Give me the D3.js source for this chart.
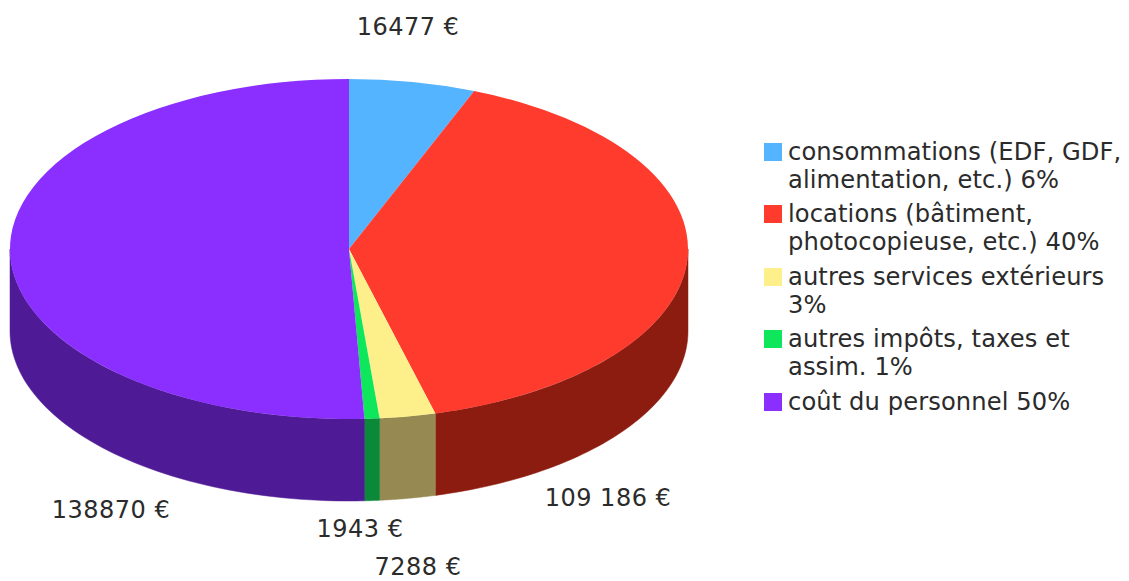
<!DOCTYPE html>
<html>
<head>
<meta charset="utf-8">
<script src="https://cdn.jsdelivr.net/npm/d3@7"></script>
<style>
  html, body { margin: 0; padding: 0; background: #fff; }
  text { font-family: "DejaVu Sans", Verdana, sans-serif; fill: #2b2b2b; }
</style>
</head>
<body>
<div id="chart"></div>
<script>
// chart data
var amounts = [16477, 109186, 7288, 1943, 138870];
var amountLabels = ["16477 €", "109 186 €", "7288 €", "1943 €", "138870 €"];
var legendLines = [
  ["consommations (EDF, GDF,", "alimentation, etc.) 6%"],
  ["locations (bâtiment,", "photocopieuse, etc.) 40%"],
  ["autres services extérieurs", "3%"],
  ["autres impôts, taxes et", "assim. 1%"],
  ["coût du personnel 50%"]
];
var topColors = ["#55b4ff", "#ff3b2e", "#fdf08a", "#0ee65c", "#8a2fff"];
var wallColors = ["#2f6a99", "#8c1c10", "#968a52", "#0a8a38", "#4e1a96"];

// layout
var width = 1129, height = 581;
var cx = 349, cy = 249, rx = 339, ry = 170, depth = 82;
// where each amount label sits, same order as amounts
var labelPos = [[408, 27], [608, 498], [418, 567], [360, 529], [111, 510]];

var svg = d3.select("#chart").append("svg")
  .attr("width", width)
  .attr("height", height);

var slices = d3.pie().sort(null).value(function (d) { return d; })(amounts);

// x and y of a point on the rim, unit circle to the squashed ellipse
var x = d3.scaleLinear().domain([-1, 1]).range([cx - rx, cx + rx]);
var y = d3.scaleLinear().domain([-1, 1]).range([cy - ry, cy + ry]);

var rim = d3.line()
  .x(function (d) { return x(Math.sin(d.a)); })
  .y(function (d) { return y(-Math.cos(d.a)) + d.drop; });

// side walls, only the front half of the disc shows
function wallPath(d) {
  var a0 = Math.max(d.startAngle, Math.PI / 2);
  var a1 = Math.min(d.endAngle, 3 * Math.PI / 2);
  if (a1 <= a0) return null;
  var steps = d3.range(0, 61).map(function (i) { return a0 + (a1 - a0) * i / 60; });
  var top = steps.map(function (a) { return { a: a, drop: 0 }; });
  var bottom = steps.slice().reverse().map(function (a) { return { a: a, drop: depth }; });
  return rim(top.concat(bottom)) + "Z";
}

svg.append("g").selectAll("path")
  .data(slices)
  .enter().append("path")
  .attr("d", wallPath)
  .attr("fill", function (d, i) { return wallColors[i]; })
  .attr("stroke", function (d, i) { return wallColors[i]; })
  .attr("stroke-width", 0.5);

// top of the disc
var arc = d3.arc().innerRadius(0).outerRadius(rx);
svg.append("g")
  .attr("transform", "translate(" + cx + "," + cy + ") scale(1," + (ry / rx) + ")")
  .selectAll("path")
  .data(slices)
  .enter().append("path")
  .attr("d", arc)
  .attr("fill", function (d, i) { return topColors[i]; });

// amount labels
svg.append("g").selectAll("text")
  .data(amountLabels)
  .enter().append("text")
  .attr("x", function (d, i) { return labelPos[i][0]; })
  .attr("y", function (d, i) { return labelPos[i][1]; })
  .attr("dy", "0.35em")
  .attr("text-anchor", "middle")
  .style("font-size", "24px")
  .style("letter-spacing", "0.5px")
  .text(function (d) { return d; });

// legend
var legendTop = [152, 214, 277, 339, 402];
var legend = svg.append("g").selectAll("g")
  .data(legendLines)
  .enter().append("g")
  .attr("transform", function (d, i) { return "translate(764," + legendTop[i] + ")"; });

legend.append("rect")
  .attr("x", 0).attr("y", -9)
  .attr("width", 18).attr("height", 18)
  .attr("fill", function (d, i) { return topColors[i]; });

legend.selectAll("text")
  .data(function (d) { return d; })
  .enter().append("text")
  .attr("x", 24)
  .attr("y", function (d, i) { return i * 28; })
  .attr("dy", "0.35em")
  .style("font-size", "24.2px")
  .style("letter-spacing", "0.1px")
  .text(function (d) { return d; });
</script>
</body>
</html>
